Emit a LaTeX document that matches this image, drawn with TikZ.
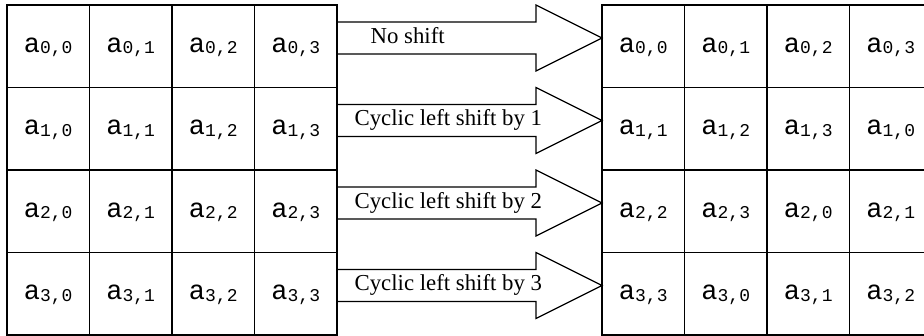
\documentclass[tikz,border=0pt]{standalone}
\usepackage{fontspec}
\setmainfont{Liberation Serif}
\setmonofont{Liberation Mono}
\usetikzlibrary{
    calc
}
\tikzset{
  every path/.style={
    black,
    line width=1.2pt
  },
  cell/.style={
    draw,
    minimum width=82.5pt,
    minimum height=82.5pt,
    inner sep=0pt,
    outer sep=0pt,
    text height=18pt,
    text depth=6pt,
    font=\ttfamily\fontsize{27}{30}\selectfont
  },
  shiftlabel/.style={
    anchor=base west,
    inner sep=0pt,
    font=\fontsize{22.8}{26}\selectfont
  }
}
\newcommand\elem[2]{a\raisebox{-1.5pt}{\fontsize{18}{20}\selectfont#1,#2}}

\begin{document}
\begin{tikzpicture}[x=1pt,y=-1pt]
    \useasboundingbox (0,0) rectangle (924,335);

    % 元の行列
    \foreach \i in {0,...,3}
      \foreach \j in {0,...,3}
        \node[cell] (L\i\j) at ({48.25+82.5*\j},{46.25+82.5*\i}) {\elem{\i}{\j}};

    % シフト後の行列
    \foreach \i in {0,...,3}
      \foreach \j in {0,...,3} {
        \pgfmathtruncatemacro\k{mod(\i+\j,4)}
        \node[cell] (R\i\j) at ({643.25+82.5*\j},{46.25+82.5*\i}) {\elem{\i}{\k}};
      }

    % 矢印
    \foreach \i in {0,...,3}
      \draw ($(L\i3.north east)+(0,17)$) -- ($(R\i0.north west)+(-66,17)$)
        -- ++(0,-17) -- ($(R\i0.north west)+(0,33)$)
        -- ($(R\i0.north west)+(-66,66)$) -- ++(0,-17)
        -- ($(L\i3.north east)+(0,49)$);

    % ラベル
    \foreach \i/\dx/\txt in {0/33/No shift, 1/17/Cyclic left shift by 1,
                             2/17/Cyclic left shift by 2, 3/17/Cyclic left shift by 3}
      \node[shiftlabel] (lbl\i) at ($(L\i3.north east)+(\dx,38)$) {\txt};
\end{tikzpicture}
\end{document}
